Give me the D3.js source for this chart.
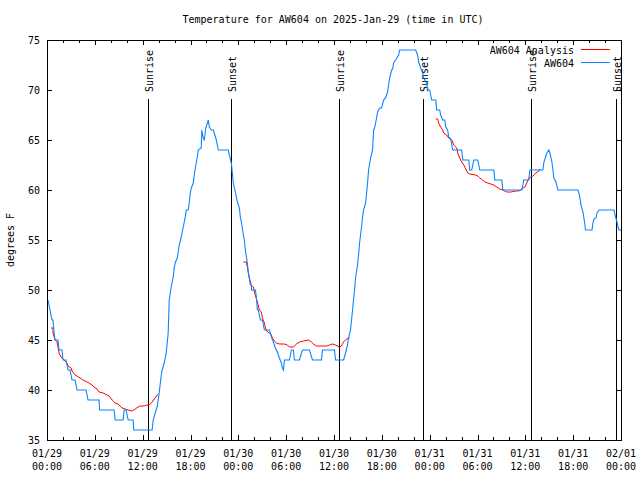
<!DOCTYPE html>
<html><head><meta charset="utf-8">
<script src="https://cdn.jsdelivr.net/npm/d3@7"></script>
<style>
html,body{margin:0;padding:0;background:#fff;}
text{font-family:"DejaVu Sans Mono","Liberation Mono",monospace;font-size:10px;fill:#000;}
</style></head>
<body><svg id="c" width="640" height="480"></svg>
<script>
// ---- data (hours since 2025-01-29 00:00 UTC, degrees F) ----
const title = "Temperature for AW604 on 2025-Jan-29 (time in UTC)";
const yLabel = "degrees F";
const seriesNames = ["AW604 Analysis", "AW604"];
const yTicks = [35, 40, 45, 50, 55, 60, 65, 70, 75];
const sunriseHours = [12.62, 36.62, 60.75];
const sunsetHours = [23.05, 47.17, 71.35];

const obs = [[0.13,49],[0.5,47.5],[0.63,47],[0.75,47],[0.88,45.8],[1.01,45],[1.38,45],[1.51,44],[1.88,44],[2.01,43],[2.39,43],[2.51,42.5],[2.64,42],[2.89,42],[3.14,41],[3.52,41],[3.77,40],[4.9,40],[5.15,39],[6.53,39],[6.6,38],[8.42,38],[8.55,37],[9.55,37],[9.68,38],[9.93,38],[10.18,37],[10.81,37],[10.87,36],[13.19,36],[13.32,37],[13.57,37.7],[13.82,38.3],[14.07,39.7],[14.33,41.5],[14.45,42],[14.7,42.7],[14.95,43.7],[15.2,45.7],[15.33,49],[15.58,50.3],[15.83,51.3],[15.96,52.2],[16.08,52.7],[16.34,53.2],[16.46,53.8],[16.59,54.5],[16.84,55.3],[16.96,55.8],[17.22,56.8],[17.34,57.3],[17.47,58],[17.72,58],[17.84,58.7],[17.97,59.7],[18.1,60.2],[18.35,60.7],[18.47,61.5],[18.72,62.7],[18.85,63.3],[18.97,64],[19.35,64.2],[19.41,66],[19.6,65.2],[19.73,65],[19.92,66.2],[20.23,67],[20.36,66.3],[20.61,66],[20.86,66],[21.24,65],[21.49,64],[22.74,64],[22.87,63.5],[23.12,62.7],[23.25,61.7],[23.37,60.7],[23.62,59.8],[23.75,59.3],[23.88,58.8],[24.13,58.2],[24.25,57.3],[24.38,56.8],[24.5,56.2],[24.63,55.5],[24.76,55],[24.88,54],[25.13,52.7],[25.26,51.7],[25.38,51.2],[25.63,50.5],[25.65,50],[26.14,50],[26.26,49.3],[26.39,48],[26.51,48],[26.77,47],[27.02,47],[27.27,46],[27.9,46],[28.15,45.3],[28.4,44.8],[28.65,44.2],[28.9,43.8],[29.15,43.2],[29.4,42.7],[29.53,42.2],[29.66,42],[29.78,43],[30.41,43],[30.66,44],[30.91,44],[31.04,43],[31.67,43],[32.04,44],[32.92,44],[33.3,43],[34.43,43],[34.56,44],[36.06,44],[36.19,43],[37.2,43],[37.45,43.7],[37.7,44.5],[37.82,45.2],[38.07,46],[38.2,47],[38.33,48],[38.45,49],[38.58,50],[38.7,51.2],[38.95,52.5],[39.08,53.5],[39.21,54.7],[39.33,55.5],[39.46,56.3],[39.58,57.3],[39.71,58],[39.96,58.7],[40.09,59.7],[40.21,60.7],[40.34,62],[40.59,63.2],[40.84,64],[40.97,66],[41.09,66.2],[41.34,67.2],[41.47,67.8],[41.72,68.2],[41.97,68.2],[42.22,69],[42.47,69.2],[42.72,69.8],[42.85,70.5],[42.98,71.2],[43.23,72],[43.35,72.1],[43.48,72.7],[43.73,73],[44.11,73.5],[44.23,74],[46.24,74],[46.49,73.5],[46.62,72.8],[46.87,72.2],[47.12,71.7],[47.25,71.2],[47.62,70.7],[47.75,70],[48.0,70],[48.25,69],[48.76,69],[48.88,68],[49.26,68],[49.38,67.5],[49.64,67],[49.89,67],[50.01,66.3],[50.26,66],[50.39,65.3],[50.64,65.1],[50.89,64],[52.02,64],[52.15,63],[52.9,63],[53.03,62],[53.28,62],[53.53,63],[54.03,63],[54.29,62],[56.05,62],[56.17,61],[57.05,61],[57.18,60],[59.56,60],[59.69,60.5],[59.81,61],[60.44,61],[60.57,62],[62.2,62],[62.33,62.8],[62.7,63.7],[62.95,64],[63.08,63.7],[63.33,62.8],[63.46,62],[63.58,61.2],[63.84,60.8],[64.09,60],[66.6,60],[66.72,59.7],[66.85,59.2],[66.98,58.5],[67.23,57.8],[67.35,57.2],[67.48,56.5],[67.54,56],[68.36,56],[68.48,56.7],[68.61,57.1],[68.86,57.2],[68.99,57.7],[69.24,58],[71.12,58],[71.25,57.5],[71.5,56.8],[71.63,56.3],[71.75,56],[72.0,56]];

const analysis1 = [[0.5,46.2],[0.75,46.2],[0.76,45.7],[1.01,45],[1.26,44.8],[1.38,44.3],[1.51,43.7],[1.76,43.3],[2.01,43.1],[2.26,42.9],[2.51,42.7],[2.64,42.4],[3.02,42.2],[3.14,41.9],[3.52,41.5],[3.77,41.4],[4.15,41.2],[4.52,41],[4.78,40.9],[5.28,40.7],[5.65,40.5],[5.91,40.3],[6.28,40.1],[6.53,39.8],[7.04,39.7],[7.54,39.5],[7.79,39.4],[8.17,39],[8.55,38.7],[8.92,38.6],[9.42,38.2],[9.8,38.1],[10.18,38],[10.68,37.9],[11.06,38.1],[11.43,38.3],[11.69,38.4],[12.19,38.4],[12.44,38.5],[12.82,38.5],[13.19,38.8],[13.45,39.1],[13.82,39.5],[13.95,39.6]];
const analysis2 = [[24.63,52.8],[25.01,52.8],[25.13,52.3],[25.26,51.7],[25.38,51.2],[25.51,50.5],[25.89,50.3],[26.01,49.8],[26.39,48.8],[26.64,48],[26.89,47.8],[27.02,47.2],[27.27,46.7],[27.4,46.2],[27.65,45.8],[27.9,45.7],[28.15,45.5],[28.27,45.2],[28.52,44.9],[28.78,44.7],[29.15,44.6],[29.78,44.6],[30.16,44.5],[30.41,44.3],[30.91,44.3],[31.29,44.6],[31.67,44.8],[32.17,44.9],[32.8,45],[33.17,44.8],[33.43,44.6],[33.8,44.4],[35.06,44.4],[35.44,44.5],[35.81,44.6],[36.19,44.5],[36.69,44.3],[36.94,44.4],[37.2,44.8],[37.57,45.1],[37.95,45.2]];
const analysis3 = [[48.76,67.1],[49.01,67.1],[49.13,66.7],[49.38,66.3],[49.64,66],[49.76,65.7],[50.14,65.5],[50.39,65.2],[50.77,65],[51.02,64.5],[51.4,64.2],[51.52,63.7],[51.77,63.2],[52.02,62.8],[52.28,62.5],[52.53,62.1],[52.78,61.7],[53.03,61.6],[53.78,61.5],[54.03,61.4],[54.29,61.2],[54.66,61],[54.91,60.8],[55.29,60.7],[55.67,60.6],[56.05,60.5],[56.42,60.3],[56.8,60.1],[57.18,60],[57.68,59.8],[58.18,59.8],[58.81,59.9],[59.19,59.9],[59.56,60.1],[59.94,60.3],[60.19,60.7],[60.44,61.2],[60.95,61.4],[61.32,61.7],[61.7,61.9],[61.82,62.1]];

// ---- layout ----
const L = 47, R = 621, T = 40, B = 440;
const base = Date.UTC(2025, 0, 29);
const toDate = h => new Date(base + h * 3600e3);

const svg = d3.select("#c");
const x = d3.scaleUtc().domain([new Date(base), new Date(Date.UTC(2025, 1, 1))]).range([L, R]);
const y = d3.scaleLinear().domain([35, 75]).range([B, T]);

const g = svg.append("g");

// ticks (inward, mirrored)
const major = x.ticks(d3.utcHour.every(6));
const minor = x.ticks(d3.utcHour.every(2)).filter(d => d.getUTCHours() % 6 !== 0);
const tk = g.append("g").attr("stroke", "#000").attr("shape-rendering", "crispEdges");
major.forEach(d => {
  const px = Math.round(x(d)) + 0.5;
  tk.append("line").attr("x1", px).attr("x2", px).attr("y1", B).attr("y2", B - 5);
  tk.append("line").attr("x1", px).attr("x2", px).attr("y1", T).attr("y2", T + 5);
});
minor.forEach(d => {
  const px = Math.round(x(d)) + 0.5;
  tk.append("line").attr("x1", px).attr("x2", px).attr("y1", B).attr("y2", B - 3);
  tk.append("line").attr("x1", px).attr("x2", px).attr("y1", T).attr("y2", T + 3);
});
yTicks.forEach(v => {
  const py = Math.round(y(v)) + 0.5;
  tk.append("line").attr("x1", L).attr("x2", L + 5).attr("y1", py).attr("y2", py);
  tk.append("line").attr("x1", R).attr("x2", R - 5).attr("y1", py).attr("y2", py);
});

// tick labels
const fDate = d3.utcFormat("%m/%d"), fTime = d3.utcFormat("%H:%M");
major.forEach(d => {
  const t = g.append("text").attr("x", x(d)).attr("text-anchor", "middle");
  t.append("tspan").attr("x", x(d)).attr("y", 457).text(fDate(d));
  t.append("tspan").attr("x", x(d)).attr("y", 470).text(fTime(d));
});
yTicks.forEach(v => {
  g.append("text").attr("x", 40).attr("y", y(v) + 4).attr("text-anchor", "end").text(v);
});

// axis labels and title
g.append("text").attr("x", 333).attr("y", 23).attr("text-anchor", "middle").text(title);
g.append("text").attr("transform", "translate(14,240) rotate(-90)").attr("text-anchor", "middle").text(yLabel);

// sunrise / sunset lines
const sun = sunriseHours.map(h => ({h, label: "Sunrise"})).concat(sunsetHours.map(h => ({h, label: "Sunset"})));
sun.forEach(s => {
  const px = Math.round(x(toDate(s.h))) + 0.5;
  g.append("line").attr("x1", px).attr("x2", px).attr("y1", y(69.1)).attr("y2", B)
    .attr("stroke", "#000").attr("shape-rendering", "crispEdges");
  g.append("text").attr("transform", `translate(${px + 4},${y(69.8)}) rotate(-90)`)
    .attr("text-anchor", "start").text(s.label);
});

// data lines
const line = d3.line().x(d => x(toDate(d[0]))).y(d => y(d[1]));
const red = "#ff0000", blue = "#0a84ff";
[analysis1, analysis2, analysis3].forEach(a => {
  g.append("path").attr("d", line(a)).attr("fill", "none").attr("stroke", red).attr("stroke-width", 1);
});
g.append("path").attr("d", line(obs)).attr("fill", "none").attr("stroke", blue).attr("stroke-width", 1.1);

// legend
const lg = g.append("g");
[[seriesNames[0], red, 54, 49.5], [seriesNames[1], blue, 67, 62.5]].forEach(([name, col, ty, ly]) => {
  lg.append("text").attr("x", 574).attr("y", ty).attr("text-anchor", "end").text(name);
  lg.append("line").attr("x1", 581).attr("x2", 610).attr("y1", ly).attr("y2", ly)
    .attr("stroke", col).attr("shape-rendering", "crispEdges");
});

// border
g.append("rect").attr("x", L + 0.5).attr("y", T + 0.5).attr("width", R - L).attr("height", B - T)
  .attr("fill", "none").attr("stroke", "#000").attr("shape-rendering", "crispEdges");
</script></body></html>
